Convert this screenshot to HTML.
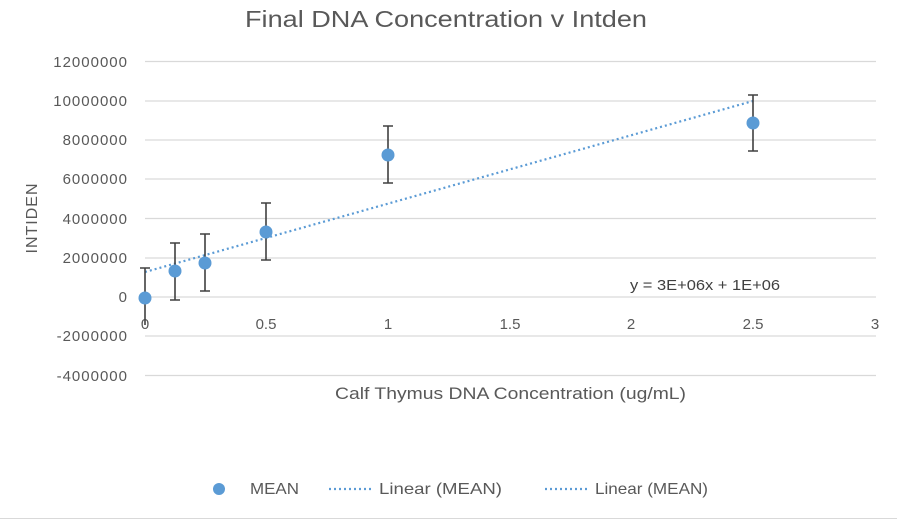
<!DOCTYPE html><html><head><style>body{margin:0;background:#fff}svg{display:block}text{font-family:"Liberation Sans",sans-serif;fill:#595959}</style></head><body>
<svg width="897" height="522" viewBox="0 0 897 522">
<rect width="897" height="522" fill="#fff"/>
<text x="245" y="27" font-size="23" textLength="402" lengthAdjust="spacingAndGlyphs">Final DNA Concentration v Intden</text>
<g stroke="#d9d9d9" stroke-width="1.3">
<line x1="145" x2="876" y1="61.5" y2="61.5"/><line x1="145" x2="876" y1="101" y2="101"/><line x1="145" x2="876" y1="140" y2="140"/><line x1="145" x2="876" y1="179" y2="179"/><line x1="145" x2="876" y1="218.5" y2="218.5"/><line x1="145" x2="876" y1="258" y2="258"/><line x1="145" x2="876" y1="297" y2="297"/><line x1="145" x2="876" y1="336" y2="336"/><line x1="145" x2="876" y1="375.5" y2="375.5"/>
</g>
<g font-size="15" text-anchor="end" letter-spacing="1">
<text x="128" y="67">12000000</text><text x="128" y="106">10000000</text><text x="128" y="145">8000000</text><text x="128" y="184">6000000</text><text x="128" y="224">4000000</text><text x="128" y="263">2000000</text><text x="128" y="302">0</text><text x="128" y="341">-2000000</text><text x="128" y="381">-4000000</text>
</g>
<g font-size="15" text-anchor="middle">
<text x="145" y="329">0</text><text x="266" y="329">0.5</text><text x="388" y="329">1</text><text x="510" y="329">1.5</text><text x="631" y="329">2</text><text x="753" y="329">2.5</text><text x="875" y="329">3</text>
</g>
<text x="335" y="399" font-size="17" textLength="351" lengthAdjust="spacingAndGlyphs">Calf Thymus DNA Concentration (ug/mL)</text>
<text transform="translate(37,218) rotate(-90)" font-size="16" text-anchor="middle" letter-spacing="1">INTIDEN</text>
<line x1="145" y1="272" x2="753" y2="101" stroke="#5b9bd5" stroke-width="2.2" stroke-dasharray="2,3"/>
<g stroke="#404040" stroke-width="1.6">
<path d="M145 268V325M140 268H150"/>
<path d="M175 243V300M170 243H180M170 300H180"/>
<path d="M205 234V291M200 234H210M200 291H210"/>
<path d="M266 203V260M261 203H271M261 260H271"/>
<path d="M388 126V183M383 126H393M383 183H393"/>
<path d="M753 95V151M748 95H758M748 151H758"/>
</g>
<g fill="#5b9bd5">
<circle cx="145" cy="298" r="6.5"/><circle cx="175" cy="271" r="6.5"/><circle cx="205" cy="263" r="6.5"/><circle cx="266" cy="232" r="6.5"/><circle cx="388" cy="155" r="6.5"/><circle cx="753" cy="123" r="6.5"/>
</g>
<text x="630" y="290" font-size="15" textLength="150" lengthAdjust="spacingAndGlyphs" style="fill:#404040">y = 3E+06x + 1E+06</text>
<circle cx="219" cy="489" r="6" fill="#5b9bd5"/>
<text x="250" y="494" font-size="16" textLength="49" lengthAdjust="spacingAndGlyphs">MEAN</text>
<line x1="329" y1="489" x2="373" y2="489" stroke="#5b9bd5" stroke-width="2.2" stroke-dasharray="2,3"/>
<text x="379" y="494" font-size="16" textLength="123" lengthAdjust="spacingAndGlyphs">Linear (MEAN)</text>
<line x1="545" y1="489" x2="589" y2="489" stroke="#5b9bd5" stroke-width="2.2" stroke-dasharray="2,3"/>
<text x="595" y="494" font-size="16" textLength="113" lengthAdjust="spacingAndGlyphs">Linear (MEAN)</text>
<line x1="0" y1="518.5" x2="897" y2="518.5" stroke="#d9d9d9"/>
</svg></body></html>
